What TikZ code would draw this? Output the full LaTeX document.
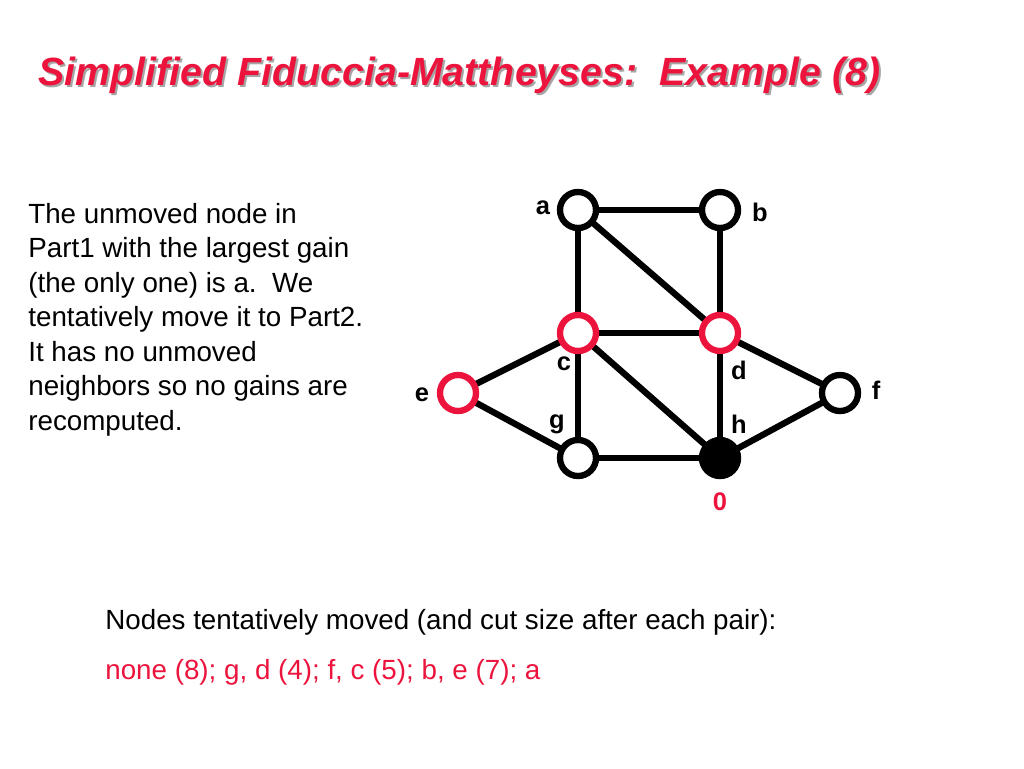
\documentclass[tikz,border=0pt]{standalone}
\usepackage{fontspec}
\setmainfont{Liberation Sans}
\definecolor{myred}{RGB}{236,20,60}
\pgfdeclarelayer{background}
\pgfsetlayers{background,main}
\begin{document}
\begin{tikzpicture}[x=0.02cm,y=-0.02cm,
  vtx/.style={circle,draw=black,line width=3.6pt,fill=white,minimum size=0.72cm,inner sep=0pt},
  rvtx/.style={vtx,draw=myred},
  bvtx/.style={vtx,fill=black},
  edge/.style={line width=3.6pt},
  lbl/.style={font=\fontsize{14.5}{16}\selectfont\bfseries,inner sep=0pt},
  txt/.style={font=\fontsize{15.8}{19.6}\selectfont,inner sep=0pt,anchor=north west,align=left}]
\useasboundingbox (0,0) rectangle (1024,768);
\node[anchor=west,inner sep=0pt,text=gray!70,font=\fontsize{22.4}{26}\selectfont\bfseries\itshape] at (40,77) {Simplified Fiduccia-Mattheyses:\ \ Example (8)};
\node (title) [anchor=west,inner sep=0pt,text=myred,font=\fontsize{22.4}{26}\selectfont\bfseries\itshape] at (38,75) {Simplified Fiduccia-Mattheyses:\ \ Example (8)};
\node (a) [vtx] at (578,210) {};
\node (b) [vtx] at (720,210) {};
\node (c) [rvtx] at (578,333) {};
\node (d) [rvtx] at (720,333) {};
\node (e) [rvtx] at (458,393) {};
\node (f) [vtx] at (840,393) {};
\node (g) [vtx] at (578,458) {};
\node (h) [bvtx] at (720,458) {};
\begin{pgfonlayer}{background}
\foreach \u/\v in {a/b,a/c,a/d,b/d,c/d,c/e,c/g,c/h,d/h,d/f,e/g,g/h,h/f}
  \draw[edge] (\u.center) -- (\v.center);
\end{pgfonlayer}
\node[lbl] (la) at (543,208) {a};
\node[lbl] (lb) at (760,212) {b};
\node[lbl] (lc) at (564,364) {c};
\node[lbl] (ld) at (739,370) {d};
\node[lbl] (le) at (422,395) {e};
\node[lbl] (lf) at (876,390) {f};
\node[lbl] (lg) at (557,424) {g};
\node[lbl] (lh) at (739,424) {h};
\node[lbl,text=myred] (zero) at (720,502) {0};
\node[txt] (desc) at (28,203) {The unmoved node in\\Part1 with the largest gain\\(the only one) is a.\ \ We\\tentatively move it to Part2.\\It has no unmoved\\neighbors so no gains are\\recomputed.};
\node[txt,anchor=west] (moved) at (105,622) {Nodes tentatively moved (and cut size after each pair):};
\node[txt,anchor=west,text=myred] (seq) at (105,672) {none (8); g, d (4); f, c (5); b, e (7); a};
\end{tikzpicture}
\end{document}
